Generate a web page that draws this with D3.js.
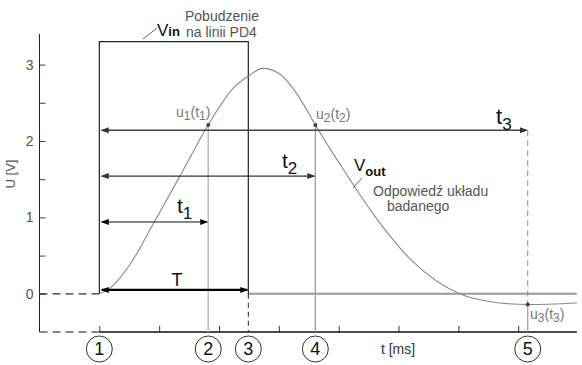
<!DOCTYPE html>
<html>
<head>
<meta charset="utf-8">
<script src="https://cdn.jsdelivr.net/npm/d3@7"></script>
<style>
  body { margin: 0; background: #fff; }
  svg text { font-family: "Liberation Sans", Arial, sans-serif; }
</style>
</head>
<body>
<div id="chart"></div>
<script>
// response curve (t in ms ticks, U in volts)
const respT = [0, 0.17, 0.55, 0.89, 1.34, 1.82, 2.25, 2.51, 2.73, 3.01, 3.30, 3.61, 4.01, 4.60, 5.24, 6.02, 6.60, 7.16, 7.98];
const respU = [0, 0.07, 0.43, 0.90, 1.53, 2.21, 2.70, 2.86, 2.95, 2.88, 2.62, 2.21, 1.71, 1.02, 0.42, 0.00, -0.11, -0.14, -0.12];

// input pulse
const pulseStart = 0;
const pulseEnd = 2.49;
const pulseLevel = 3.30;

// marked time points (circled numbers 1..5)
const markNames = ['1', '2', '3', '4', '5'];
const markTimes = [0, 1.82, 2.49, 3.61, 7.16];

// measured points u1(t1), u2(t2), u3(t3)
const pointT = [1.82, 3.61, 7.16];
const pointU = [2.21, 2.21, -0.14];

// interval arrows
const arrowNames = ['t3', 't2', 't1', 'T'];
const arrowEnds = [7.16, 3.61, 1.82, 2.49];
const arrowLevels = [2.14, 1.54, 0.94, 0.05];

const xTicks = [0, 1, 2, 3, 4, 5, 6, 7];
const yTicks = [0, 0.5, 1, 1.5, 2, 2.5, 3];
const yLabels = ['0', '1', '2', '3'];

const width = 582;
const height = 365;

const svg = d3.select('#chart').append('svg')
  .attr('width', width)
  .attr('height', height);

const x = d3.scaleLinear().domain([-1, 8]).range([39.5, 578]);
const y = d3.scaleLinear().domain([-0.5, 3.4]).range([332, 34]);

const defs = svg.append('defs');
function addMarker(id, color, size) {
  defs.append('marker')
    .attr('id', id)
    .attr('viewBox', '0 -4 8 8')
    .attr('refX', 7)
    .attr('refY', 0)
    .attr('markerUnits', 'userSpaceOnUse')
    .attr('markerWidth', size)
    .attr('markerHeight', size)
    .attr('orient', 'auto-start-reverse')
    .append('path')
    .attr('d', 'M0,-3L8,0L0,3Z')
    .attr('fill', color);
}
addMarker('headDark', '#333', 8);
addMarker('headBlack', '#000', 8);

// y axis
const yAxis = d3.axisLeft(y)
  .tickValues(yTicks)
  .tickSize(-6)
  .tickPadding(6)
  .tickFormat(d => yLabels.includes(String(d)) ? d : '');
const gy = svg.append('g')
  .attr('transform', `translate(${x(-1)},0)`)
  .call(yAxis);
gy.select('.domain').remove();
gy.selectAll('.tick line').attr('stroke', '#444');
gy.selectAll('.tick text')
  .attr('fill', '#555')
  .style('font-size', '14px');
svg.append('line')
  .attr('x1', x(-1)).attr('x2', x(-1))
  .attr('y1', y(3.4)).attr('y2', y(-0.5))
  .attr('stroke', '#222');

// x axis
const xAxis = d3.axisBottom(x)
  .tickValues(xTicks)
  .tickSize(-6)
  .tickFormat('');
const gx = svg.append('g')
  .attr('transform', `translate(0,${y(-0.5)})`)
  .call(xAxis);
gx.select('.domain').remove();
gx.selectAll('.tick line').attr('stroke', '#333');
svg.append('line')
  .attr('x1', x(0)).attr('x2', x(7.98))
  .attr('y1', y(-0.5)).attr('y2', y(-0.5))
  .attr('stroke', '#111')
  .attr('stroke-width', 1.3);
svg.append('line')
  .attr('x1', x(-1)).attr('x2', x(0))
  .attr('y1', y(-0.5)).attr('y2', y(-0.5))
  .attr('stroke', '#111')
  .attr('stroke-dasharray', '8,5');

// dashed zero level before the pulse
svg.append('line')
  .attr('x1', x(-1)).attr('x2', x(0))
  .attr('y1', y(0)).attr('y2', y(0))
  .attr('stroke', '#333')
  .attr('stroke-width', 1.3)
  .attr('stroke-dasharray', '8,5');

// zero level after the pulse
svg.append('line')
  .attr('x1', x(pulseEnd)).attr('x2', x(7.98))
  .attr('y1', y(0)).attr('y2', y(0))
  .attr('stroke', '#999')
  .attr('stroke-width', 2);

// pulse Vin
svg.append('path')
  .attr('d', d3.line()([
    [x(pulseStart), y(0)], [x(pulseStart), y(pulseLevel)],
    [x(pulseEnd), y(pulseLevel)], [x(pulseEnd), y(0)]
  ]))
  .attr('fill', 'none')
  .attr('stroke', '#222')
  .attr('stroke-width', 1.2);

// guide lines down from the points
svg.append('line')
  .attr('x1', x(pointT[0])).attr('x2', x(pointT[0]))
  .attr('y1', y(pointU[0])).attr('y2', y(-0.5))
  .attr('stroke', '#bbb').attr('stroke-width', 1.5);
svg.append('line')
  .attr('x1', x(pointT[1])).attr('x2', x(pointT[1]))
  .attr('y1', y(pointU[1])).attr('y2', y(-0.5))
  .attr('stroke', '#999').attr('stroke-width', 1.2);
svg.append('line')
  .attr('x1', x(pulseEnd)).attr('x2', x(pulseEnd))
  .attr('y1', y(0)).attr('y2', y(-0.5))
  .attr('stroke', '#222').attr('stroke-dasharray', '5,4');
svg.append('line')
  .attr('x1', x(pointT[2])).attr('x2', x(pointT[2]))
  .attr('y1', y(arrowLevels[0])).attr('y2', y(pointU[2]))
  .attr('stroke', '#888').attr('stroke-dasharray', '6,4');
svg.append('line')
  .attr('x1', x(pointT[2])).attr('x2', x(pointT[2]))
  .attr('y1', y(pointU[2])).attr('y2', y(-0.5))
  .attr('stroke', '#999').attr('stroke-width', 1.2);

// response Vout
const line = d3.line()
  .x(d => x(d[0]))
  .y(d => y(d[1]))
  .curve(d3.curveMonotoneX);
svg.append('path')
  .datum(respT.map((t, i) => [t, respU[i]]))
  .attr('d', line)
  .attr('fill', 'none')
  .attr('stroke', '#888')
  .attr('stroke-width', 1.1);

// interval arrows
const arrowStyle = [
  { color: '#444', w: 1.6, head: 'headDark' },
  { color: '#333', w: 1.3, head: 'headDark' },
  { color: '#111', w: 1, head: 'headBlack' },
  { color: '#000', w: 2.2, head: 'headBlack' }
];
arrowNames.forEach((n, i) => {
  svg.append('line')
    .attr('x1', x(0.04)).attr('x2', x(arrowEnds[i]) - 1)
    .attr('y1', y(arrowLevels[i])).attr('y2', y(arrowLevels[i]))
    .attr('stroke', arrowStyle[i].color)
    .attr('stroke-width', arrowStyle[i].w)
    .attr('marker-start', `url(#${arrowStyle[i].head})`)
    .attr('marker-end', `url(#${arrowStyle[i].head})`);
});

// points
svg.selectAll('.pt')
  .data(pointT)
  .enter().append('circle')
  .attr('class', 'pt')
  .attr('cx', d => x(d))
  .attr('cy', (d, i) => y(pointU[i]))
  .attr('r', 2)
  .attr('fill', '#444');

// interval labels
function subLabel(px, py, main, sub, size, subSize, fill) {
  const t = svg.append('text')
    .attr('x', px).attr('y', py)
    .attr('fill', fill)
    .style('font-size', size + 'px');
  t.append('tspan').text(main);
  t.append('tspan')
    .attr('dy', size * 0.28)
    .style('font-size', subSize + 'px')
    .text(sub);
  return t;
}
subLabel(496, 124, 't', '3', 22, 17, '#111');
subLabel(282, 168, 't', '2', 21, 17, '#111');
subLabel(177, 213, 't', '1', 21, 17, '#111');
svg.append('text')
  .attr('x', 177).attr('y', 286)
  .attr('text-anchor', 'middle')
  .attr('fill', '#111')
  .style('font-size', '18px')
  .text('T');

// point labels u(t)
function pointLabel(px, py, idx) {
  const t = svg.append('text')
    .attr('x', px).attr('y', py)
    .attr('fill', '#777')
    .style('font-size', '14px');
  t.append('tspan').text('u');
  t.append('tspan').attr('dy', 3).style('font-size', '12px').text(idx);
  t.append('tspan').attr('dy', -3).text('(t');
  t.append('tspan').attr('dy', 3).style('font-size', '12px').text(idx);
  t.append('tspan').attr('dy', -3).text(')');
}
pointLabel(176, 117, '1');
pointLabel(316, 119, '2');
pointLabel(530, 319, '3');

// Vin label
svg.append('line')
  .attr('x1', 143).attr('y1', 39).attr('x2', 157).attr('y2', 28)
  .attr('stroke', '#666');
const vin = svg.append('text')
  .attr('x', 157).attr('y', 36)
  .attr('fill', '#111')
  .style('font-size', '17px');
vin.append('tspan').text('V');
vin.append('tspan').style('font-size', '13px').style('font-weight', 'bold').text('in');
svg.append('text')
  .attr('x', 185).attr('y', 21)
  .attr('fill', '#555')
  .style('font-size', '14px')
  .text('Pobudzenie');
svg.append('text')
  .attr('x', 186).attr('y', 37)
  .attr('fill', '#555')
  .style('font-size', '14px')
  .text('na linii PD4');

// Vout label
svg.append('line')
  .attr('x1', 362).attr('y1', 178).attr('x2', 353).attr('y2', 188)
  .attr('stroke', '#666');
const vout = svg.append('text')
  .attr('x', 354).attr('y', 171)
  .attr('fill', '#111')
  .style('font-size', '17px');
vout.append('tspan').text('V');
vout.append('tspan').attr('dy', 5).style('font-size', '13px').style('font-weight', 'bold').text('out');
svg.append('text')
  .attr('x', 373).attr('y', 196)
  .attr('fill', '#555')
  .style('font-size', '14px')
  .text('Odpowiedź układu');
svg.append('text')
  .attr('x', 387).attr('y', 211)
  .attr('fill', '#555')
  .style('font-size', '14px')
  .text('badanego');

// circled numbers
const marks = svg.selectAll('.mark')
  .data(markNames)
  .enter().append('g')
  .attr('class', 'mark')
  .attr('transform', (d, i) => `translate(${x(markTimes[i])},349)`);
marks.append('circle')
  .attr('r', 13)
  .attr('fill', 'none')
  .attr('stroke', '#333');
marks.append('text')
  .attr('text-anchor', 'middle')
  .attr('dy', '0.36em')
  .attr('fill', '#111')
  .style('font-size', '18px')
  .text(d => d);

// axis titles
svg.append('text')
  .attr('x', 398).attr('y', 354)
  .attr('text-anchor', 'middle')
  .attr('fill', '#333')
  .style('font-size', '14px')
  .text('t [ms]');
svg.append('text')
  .attr('transform', 'translate(15,174) rotate(-90)')
  .attr('text-anchor', 'middle')
  .attr('fill', '#555')
  .style('font-size', '13px')
  .text('U [V]');
</script>
</body>
</html>
